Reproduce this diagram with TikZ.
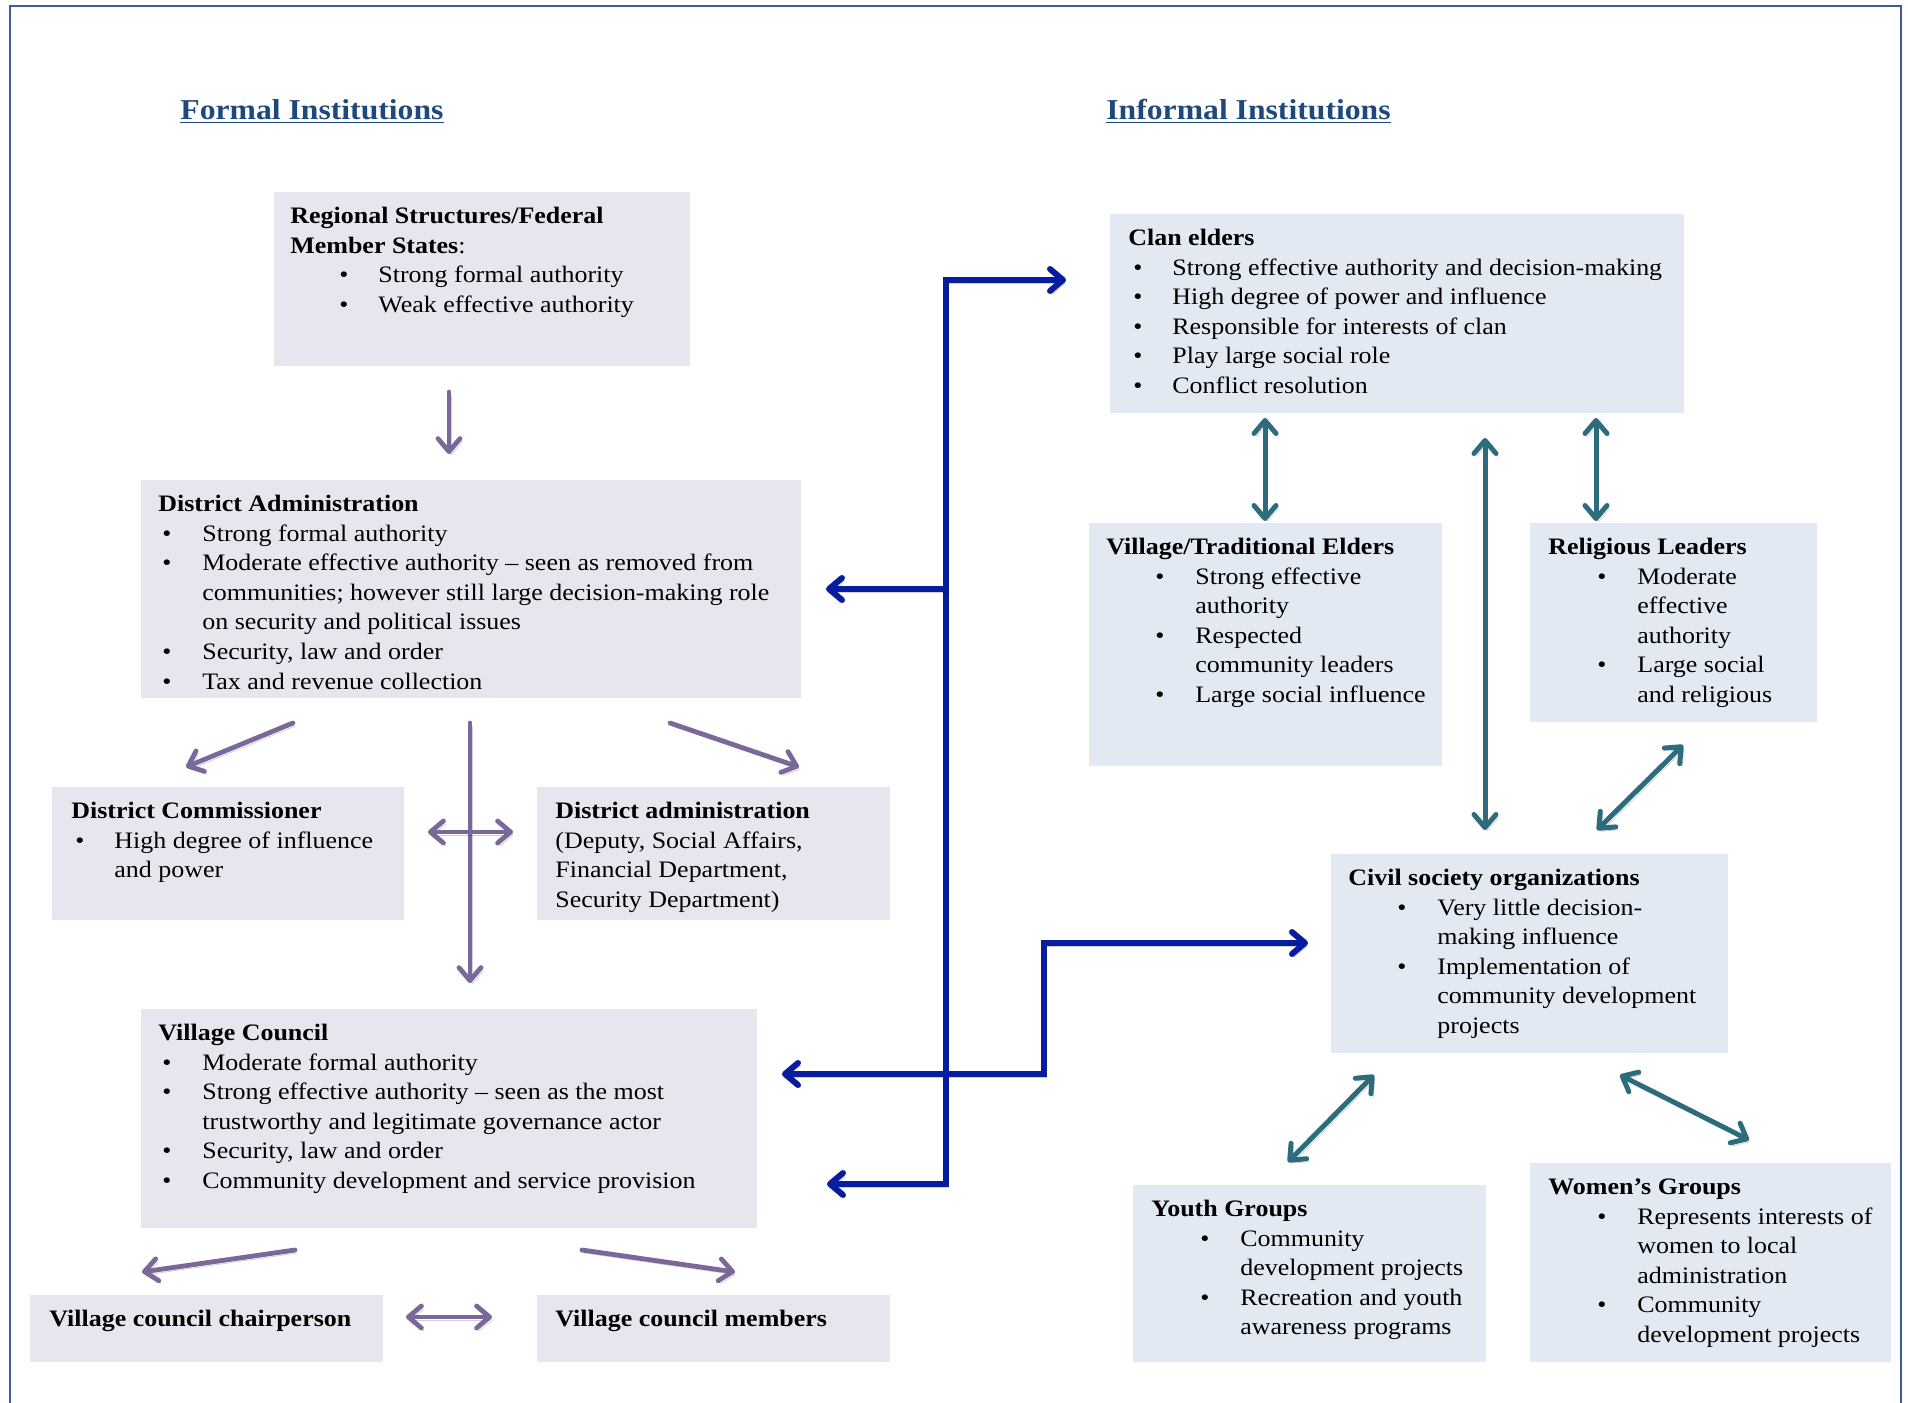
\documentclass[tikz,border=0pt]{standalone}
\usepackage{fontspec}
\setmainfont{Liberation Serif}[FakeStretch=1.10]
\usetikzlibrary{arrows.meta}
\definecolor{fbg}{RGB}{233,229,239}
\definecolor{ibg}{RGB}{226,233,243}
\definecolor{ttl}{RGB}{31,73,125}
\definecolor{pur}{RGB}{122,104,155}
\definecolor{blu}{RGB}{8,28,160}
\definecolor{tea}{RGB}{45,108,124}
\definecolor{frm}{RGB}{60,92,156}
\newlength\bA \newlength\bB
\newcommand\ind[2]{\setlength\bA{#1}\setlength\bB{#2}}
\newcommand\hl[1]{\par\noindent\textbf{#1}}
\newcommand\bl[1]{\par\noindent\hspace*{\bA}\makebox[\dimexpr\bB-\bA\relax][l]{\textbullet}#1}
\newcommand\cl[1]{\par\noindent\hspace*{\bB}#1}
\tikzset{
  fbox/.style={fill=fbg, draw=none, inner sep=0pt, anchor=north west},
  ibox/.style={fill=ibg, draw=none, inner sep=0pt, anchor=north west},
  txt/.style={anchor=base west, inner sep=0pt},
  ttlsty/.style={anchor=base west, inner sep=0pt, text=ttl, font=\fontsize{14.4}{17}\selectfont\bfseries},
  tip/.tip={Straight Barb[length=6.5pt,width=11pt,round]},
  shad/.style={preaction={draw=black, draw opacity=0.18, transform canvas={shift={(1.2pt,-1.5pt)}}}},
  parr/.style={shad, draw=pur, line width=2.4pt, line cap=round},
  barr/.style={shad, draw=blu, line width=3pt},
  tarr/.style={shad, draw=tea, line width=2.5pt, line cap=round},
}
\begin{document}
\begin{tikzpicture}[x=0.5pt,y=-0.5pt,font=\fontsize{11.8}{14.8}\selectfont]
\useasboundingbox (0,0) rectangle (1908,1403);
\draw[frm, line width=1pt] (10,1403) -- (10,6) -- (1901,6) -- (1901,1403);

% titles
\node[ttlsty] (ft) at (180,119) {\underline{Formal Institutions}};
\node[ttlsty] (it) at (1106,119) {\underline{Informal Institutions}};

% boxes
\node[fbox, minimum width=208pt, minimum height=87pt] (reg) at (274,192) {};
\node[fbox, minimum width=330pt, minimum height=109pt] (da) at (141,480) {};
\node[fbox, minimum width=176pt, minimum height=66.5pt] (dc) at (52,787) {};
\node[fbox, minimum width=176.5pt, minimum height=66.5pt] (da2) at (537,787) {};
\node[fbox, minimum width=308pt, minimum height=109.5pt] (vc) at (141,1009) {};
\node[fbox, minimum width=176.5pt, minimum height=33.5pt] (chair) at (30,1295) {};
\node[fbox, minimum width=176.5pt, minimum height=33.5pt] (mem) at (537,1295) {};
\node[ibox, minimum width=287pt, minimum height=99.5pt] (clan) at (1110,214) {};
\node[ibox, minimum width=176.5pt, minimum height=121.5pt] (vte) at (1089,523) {};
\node[ibox, minimum width=143.5pt, minimum height=99.5pt] (rel) at (1530,523) {};
\node[ibox, minimum width=198.5pt, minimum height=99.5pt] (cso) at (1331,854) {};
\node[ibox, minimum width=176.5pt, minimum height=88.5pt] (youth) at (1133,1185) {};
\node[ibox, minimum width=180.5pt, minimum height=99.5pt] (women) at (1530,1163) {};

% texts
\path (reg.north west) ++(16,31.5) node[txt] (regT) {\parbox[t]{198pt}{\ind{24.5pt}{44pt}%
\hl{Regional Structures/Federal}\hl{Member States}:%
\bl{Strong formal authority}\bl{Weak effective authority}}};
\path (da.north west) ++(17,31.5) node[txt] (daT) {\parbox[t]{325pt}{\ind{2pt}{22pt}%
\hl{District Administration}%
\bl{Strong formal authority}%
\bl{Moderate effective authority – seen as removed from}%
\cl{communities; however still large decision-making role}%
\cl{on security and political issues}%
\bl{Security, law and order}%
\bl{Tax and revenue collection}}};
\path (dc.north west) ++(19,31.5) node[txt] (dcT) {\parbox[t]{165pt}{\ind{2pt}{21.5pt}%
\hl{District Commissioner}%
\bl{High degree of influence}\cl{and power}}};
\path (da2.north west) ++(18,31.5) node[txt] (da2T) {\parbox[t]{165pt}{%
\hl{District administration}%
\par\noindent(Deputy, Social Affairs,\par\noindent Financial Department,\par\noindent Security Department)}};
\path (vc.north west) ++(17,31.5) node[txt] (vcT) {\parbox[t]{300pt}{\ind{2pt}{22pt}%
\hl{Village Council}%
\bl{Moderate formal authority}%
\bl{Strong effective authority – seen as the most}%
\cl{trustworthy and legitimate governance actor}%
\bl{Security, law and order}%
\bl{Community development and service provision}}};
\path (chair.north west) ++(19,31.5) node[txt] (chairT) {\textbf{Village council chairperson}};
\path (mem.north west) ++(18,31.5) node[txt] (memT) {\textbf{Village council members}};
\path (clan.north west) ++(18,31.5) node[txt] (clanT) {\parbox[t]{280pt}{\ind{2.5pt}{22pt}%
\hl{Clan elders}%
\bl{Strong effective authority and decision-making}%
\bl{High degree of power and influence}%
\bl{Responsible for interests of clan}%
\bl{Play large social role}%
\bl{Conflict resolution}}};
\path (vte.north west) ++(17,31.5) node[txt] (vteT) {\parbox[t]{168pt}{\ind{24.5pt}{44.5pt}%
\hl{Village/Traditional Elders}%
\bl{Strong effective}\cl{authority}%
\bl{Respected}\cl{community leaders}%
\bl{Large social influence}}};
\path (rel.north west) ++(18,31.5) node[txt] (relT) {\parbox[t]{135pt}{\ind{24.5pt}{44.5pt}%
\hl{Religious Leaders}%
\bl{Moderate}\cl{effective}\cl{authority}%
\bl{Large social}\cl{and religious}}};
\path (cso.north west) ++(17,31.5) node[txt] (csoT) {\parbox[t]{190pt}{\ind{24.5pt}{44.5pt}%
\hl{Civil society organizations}%
\bl{Very little decision-}\cl{making influence}%
\bl{Implementation of}\cl{community development}\cl{projects}}};
\path (youth.north west) ++(18,31.5) node[txt] (youthT) {\parbox[t]{168pt}{\ind{24.5pt}{44.5pt}%
\hl{Youth Groups}%
\bl{Community}\cl{development projects}%
\bl{Recreation and youth}\cl{awareness programs}}};
\path (women.north west) ++(18,31.5) node[txt] (womenT) {\parbox[t]{172pt}{\ind{24.5pt}{44.5pt}%
\hl{Women’s Groups}%
\bl{Represents interests of}\cl{women to local}\cl{administration}%
\bl{Community}\cl{development projects}}};

% arrow end points
\coordinate (p1a) at (449,392); \coordinate (p1b) at (449,454);
\coordinate (p2a) at (293,723); \coordinate (p2b) at (186,767);
\coordinate (p3a) at (670,723); \coordinate (p3b) at (799,767);
\coordinate (p4a) at (470,723); \coordinate (p4b) at (470,983);
\coordinate (p5a) at (428,832); \coordinate (p5b) at (513,832);
\coordinate (p6a) at (295,1250); \coordinate (p6b) at (142,1272);
\coordinate (p7a) at (582,1250); \coordinate (p7b) at (735,1272);
\coordinate (p8a) at (406,1317); \coordinate (p8b) at (492,1317);

\draw[parr, -tip] (p1a) -- (p1b);
\draw[parr, -tip] (p2a) -- (p2b);
\draw[parr, -tip] (p3a) -- (p3b);
\draw[parr, -tip] (p4a) -- (p4b);
\draw[parr, tip-tip] (p5a) -- (p5b);
\draw[parr, -tip] (p6a) -- (p6b);
\draw[parr, -tip] (p7a) -- (p7b);
\draw[parr, tip-tip] (p8a) -- (p8b);

% blue connectors
\coordinate (bTop) at (946,280); \coordinate (bBot) at (946,1184);
\coordinate (bMid) at (946,589);
\coordinate (clanTip) at (1066,280);
\coordinate (daTip) at (826,589);
\coordinate (vcTip) at (827,1184);
\coordinate (vcTip2) at (782,1074);
\coordinate (c1) at (1044,1074); \coordinate (c2) at (1044,943);
\coordinate (csoTip) at (1308,943);
\draw[barr, tip-tip] (vcTip) -- (bBot) -- (bTop) -- (clanTip);
\draw[barr, -tip] (bMid) -- (daTip);
\draw[barr, tip-tip] (vcTip2) -- (c1) -- (c2) -- (csoTip);

% teal connectors
\coordinate (t1a) at (1265,418); \coordinate (t1b) at (1265,521);
\coordinate (t2a) at (1596,418); \coordinate (t2b) at (1596,521);
\coordinate (t3a) at (1485,438); \coordinate (t3b) at (1485,830);
\coordinate (t4a) at (1683,745); \coordinate (t4b) at (1597,830);
\coordinate (t5a) at (1374,1075); \coordinate (t5b) at (1288,1162);
\coordinate (t6a) at (1620,1075); \coordinate (t6b) at (1749,1140);
\draw[tarr, tip-tip] (t1a) -- (t1b);
\draw[tarr, tip-tip] (t2a) -- (t2b);
\draw[tarr, tip-tip] (t3a) -- (t3b);
\draw[tarr, tip-tip] (t4a) -- (t4b);
\draw[tarr, tip-tip] (t5a) -- (t5b);
\draw[tarr, tip-tip] (t6a) -- (t6b);
\end{tikzpicture}
\end{document}
